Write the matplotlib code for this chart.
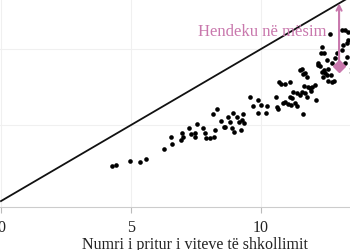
import matplotlib
matplotlib.use('Agg')
import matplotlib.pyplot as plt

plt.rcParams['font.family'] = ['Liberation Serif', 'DejaVu Serif']

# viti i pritur i shkollimit (x) dhe vitet e pershtatura me mesimin (y)
expected_years = [4.26, 4.41, 4.96, 5.35, 5.58, 6.25, 6.53, 6.57, 6.91, 6.95,
                  7.01, 7.24, 7.30, 7.46, 7.53, 7.76, 7.85, 7.88, 8.04, 8.20,
                  8.23, 8.17, 8.30, 8.45, 8.58, 7.46, 8.62, 8.74, 8.81, 8.93,
                  8.87, 8.97, 9.07, 9.15, 9.23, 9.26, 9.32, 9.36, 9.58, 9.70,
                  9.87, 9.87, 10.00, 10.18, 10.22, 10.57, 10.60, 10.67, 10.86, 10.92,
                  11.05, 11.15, 11.18, 11.31, 11.37, 11.37, 11.50, 11.57, 11.69, 11.76,
                  11.63, 12.10, 11.92, 10.69, 10.92, 11.12, 11.59, 11.69, 11.76, 11.67,
                  11.82, 11.97, 12.18, 12.27, 12.33, 12.42, 12.46, 12.57, 12.36, 12.43,
                  12.53, 12.40, 12.69, 12.59, 12.82, 12.65, 13.23, 13.30, 13.36, 13.10,
                  13.30, 13.23, 12.91, 12.85, 12.72, 12.20, 13.10, 13.35, 13.15, 11.50,
                  11.62, 12.08, 11.88, 11.23, 11.12, 10.77, 12.53, 12.72, 12.31]
learning_years = [2.28, 2.34, 2.65, 2.60, 2.74, 3.42, 4.19, 3.75, 3.99, 4.45,
                  4.23, 4.78, 4.41, 4.23, 5.05, 4.78, 4.49, 4.13, 4.13, 4.23,
                  4.67, 5.72, 6.03, 5.28, 4.89, 4.49, 4.85, 5.51, 5.18, 5.77,
                  4.78, 4.56, 5.55, 5.22, 4.67, 5.33, 5.72, 5.11, 6.86, 6.27,
                  6.64, 5.81, 6.32, 5.77, 6.25, 6.82, 6.20, 6.03, 6.43, 6.53,
                  6.38, 6.32, 6.76, 6.47, 6.25, 7.13, 6.97, 7.19, 7.09, 6.86,
                  5.70, 6.64, 7.26, 7.85, 7.70, 7.85, 8.66, 8.40, 8.18, 7.57,
                  7.52, 7.48, 9.06, 8.88, 8.51, 8.62, 8.44, 8.66, 10.15, 9.72,
                  9.28, 8.18, 8.29, 7.91, 7.91, 10.99, 11.25, 10.38, 10.59, 9.93,
                  9.49, 9.06, 9.72, 9.39, 9.06, 8.95, 11.25, 11.14, 10.26, 8.62,
                  8.36, 7.63, 7.41, 7.19, 6.86, 7.70, 8.29, 7.85, 9.72]

highlight_x = 13.0
highlight_y = 8.9
gap_label = 'Hendeku në mësim'
country_label = 'Singapori'
xlabel = 'Numri i pritur i viteve të shkollimit'
xticks = [0, 5, 10]
pink = '#c978ad'

fig = plt.figure(figsize=(3.5, 2.5), dpi=100)
ax = fig.add_axes([0, 43 / 250, 1, 207 / 250])

ax.plot([0, 14], [0, 14], color='#111111', lw=1.3, zorder=2)
ax.scatter(expected_years, learning_years, s=11, color='black', lw=0, zorder=4)

ax.annotate('', xy=(highlight_x, highlight_x), xytext=(highlight_x, highlight_y),
            arrowprops=dict(arrowstyle='->', color=pink, lw=1.5,
                            shrinkA=0, shrinkB=0, mutation_scale=9), zorder=5)
ax.plot([highlight_x], [highlight_y], marker='D', ms=6.5, color=pink, zorder=6)
ax.text(12.5, 11.1, gap_label, color=pink, fontsize=12, ha='right', va='center', zorder=3)
ax.text(13.35, 8.5, country_label, color='#222222', fontsize=8, ha='left', va='center')

ax.set_xlim(-0.038, 13.42)
ax.set_ylim(-0.39, 13.22)
ax.set_xticks(xticks)
ax.set_yticks([5, 10])
ax.set_yticklabels([])
ax.tick_params(axis='y', length=0)
ax.tick_params(axis='x', length=4, color='#bbbbbb', labelsize=11.5, labelcolor='#222222', pad=5)
ax.grid(True, color='#f0f0f0', lw=0.8, zorder=0)
for s in ['top', 'right', 'left']:
    ax.spines[s].set_visible(False)
ax.spines['bottom'].set_color('#cccccc')
ax.spines['bottom'].set_linewidth(0.8)

fig.text(195 / 350, (250 - 237) / 250, xlabel, fontsize=11.5, ha='center', va='top', color='#222222')

fig.savefig('out.png', dpi=100)
